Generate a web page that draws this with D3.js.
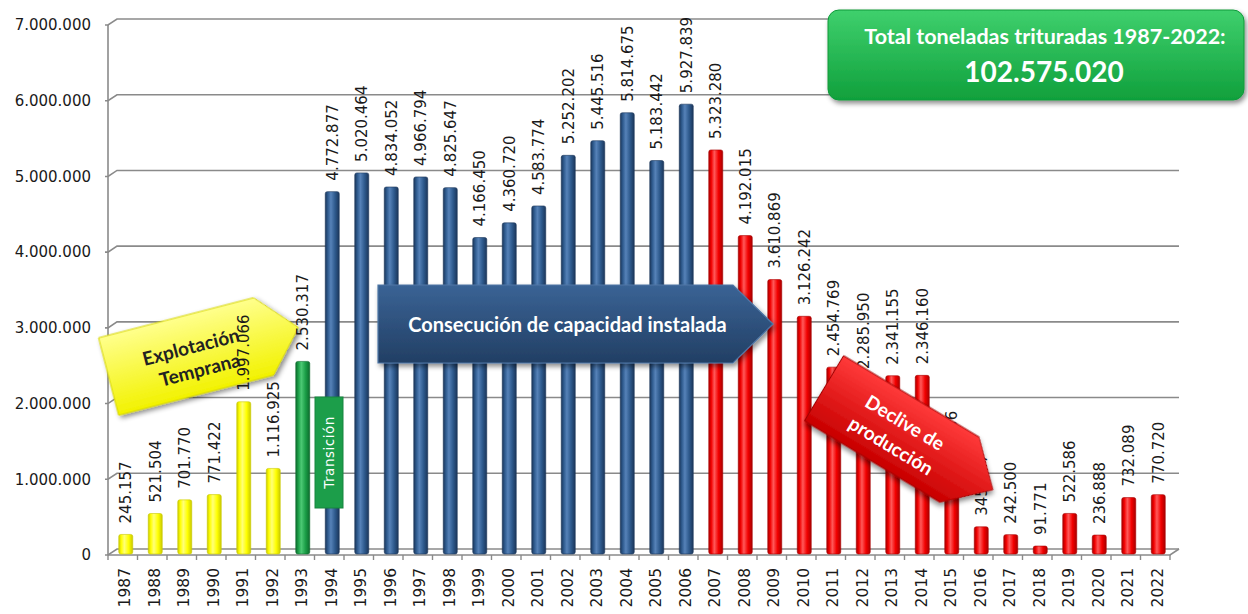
<!DOCTYPE html>
<html>
<head>
<meta charset="utf-8">
<script src="https://cdn.jsdelivr.net/npm/d3@7"></script>
<style>
body{margin:0;background:#fff;}
svg{display:block;}
.eje{font-family:'DejaVu Sans',sans-serif;fill:#1a1a1a;}
.caja{font-family:Lato,'Open Sans',sans-serif;font-weight:bold;}
</style>
</head>
<body>
<script>
var anios = [1987,1988,1989,1990,1991,1992,1993,1994,1995,1996,1997,1998,1999,2000,2001,2002,2003,2004,
	2005,2006,2007,2008,2009,2010,2011,2012,2013,2014,2015,2016,2017,2018,2019,2020,2021,2022];
var toneladas = [245157,521504,701770,771422,1997066,1116925,2530317,4772877,5020464,4834052,4966794,4825647,
	4166450,4360720,4583774,5252202,5445516,5814675,5183442,5927839,5323280,4192015,3610869,3126242,
	2454769,2285950,2341155,2346160,913636,345777,242500,91771,522586,236888,732089,770720];
// etapas: primer y ultimo anio
var etapas = [
	{nombre:'temprana',desde:1987,hasta:1992},
	{nombre:'transicion',desde:1993,hasta:1993},
	{nombre:'capacidad',desde:1994,hasta:2006},
	{nombre:'declive',desde:2007,hasta:2022}
];
var yTicks = [0,1000000,2000000,3000000,4000000,5000000,6000000,7000000];

var colores = {
	temprana:['#c9c900','#ffff00','#ffff7a'],
	transicion:['#0d6b2d','#1b9e47','#4cc974'],
	capacidad:['#1b365a','#2e5a8d','#5682b8'],
	declive:['#a80000','#f20000','#ff5a5a']
};

var fmt = d3.formatLocale({decimal:',',thousands:'.',grouping:[3],currency:['','']}).format(',');
function etapaDe(a){return etapas.filter(function(e){return a>=e.desde && a<=e.hasta;})[0].nombre;}

var W = 1248, H = 614;
var svg = d3.select('body').append('svg').attr('width',W).attr('height',H);
var defs = svg.append('defs');

Object.keys(colores).forEach(function(k){
	var c = colores[k];
	var g = defs.append('linearGradient').attr('id','bar-'+k).attr('x1',0).attr('x2',1).attr('y1',0).attr('y2',0);
	g.append('stop').attr('offset','0%').attr('stop-color',c[0]);
	g.append('stop').attr('offset','18%').attr('stop-color',c[1]);
	g.append('stop').attr('offset','40%').attr('stop-color',c[2]);
	g.append('stop').attr('offset','70%').attr('stop-color',c[1]);
	g.append('stop').attr('offset','100%').attr('stop-color',c[0]);
});
var sombra = defs.append('filter').attr('id','sombra').attr('x','-20%').attr('y','-20%').attr('width','140%').attr('height','150%');
sombra.append('feDropShadow').attr('dx',2).attr('dy',3).attr('stdDeviation',2.5).attr('flood-opacity',0.45);

function gradV(id,a,b){
	var g = defs.append('linearGradient').attr('id',id).attr('x1',0).attr('x2',0).attr('y1',0).attr('y2',1);
	g.append('stop').attr('offset','0%').attr('stop-color',a);
	g.append('stop').attr('offset','100%').attr('stop-color',b);
}
gradV('g-total','#3fd06d','#10a03c');
gradV('g-amarillo','#ffff8c','#f2f200');
gradV('g-azul','#3a6395','#223f64');
gradV('g-rojo','#ff3a3a','#c80000');

//Escalas
var x = d3.scaleBand().domain(anios).range([108,1170]).paddingInner(0);
var y = d3.scaleLinear().domain([0,7000000]).range([553,23]);
var dx = 9, dy = -6; //profundidad 3D

//Rejilla y ejes
var grid = svg.append('g');
yTicks.forEach(function(v){
	var yf = y(v)+2;
	grid.append('path')
		.attr('d','M105,'+yf+'H108L'+(108+dx)+','+(yf+dy)+'H'+(1170+dx))
		.attr('fill','none').attr('stroke','#8a8a8a').attr('stroke-width',1.6);
});
grid.append('line').attr('x1',108).attr('x2',108).attr('y1',y(7000000)+2).attr('y2',y(0)+2)
	.attr('stroke','#8a8a8a').attr('stroke-width',1.6);
grid.append('path').attr('d','M108,'+(y(0)+2)+'H1170L'+(1170+dx)+','+(y(0)+2+dy))
	.attr('fill','none').attr('stroke','#8a8a8a').attr('stroke-width',1.6);
anios.concat([2023]).forEach(function(a,i){
	var xx = 108 + i*x.step();
	grid.append('line').attr('x1',xx).attr('x2',xx).attr('y1',y(0)+2).attr('y2',y(0)+7)
		.attr('stroke','#8a8a8a').attr('stroke-width',1.4);
});

svg.append('g').selectAll('text').data(yTicks).enter().append('text')
	.attr('class','eje').attr('x',91).attr('y',function(d){return y(d)+2;}).attr('dy','0.35em')
	.attr('text-anchor','end').style('font-size','15px').text(function(d){return fmt(d);});

svg.append('g').selectAll('text').data(anios).enter().append('text')
	.attr('class','eje')
	.attr('transform',function(d){return 'translate('+(x(d)+x.bandwidth()/2+7.5)+',568) rotate(-90)';})
	.attr('text-anchor','end').style('font-size','15.5px').text(function(d){return d;});

//Barras
var bw = 14;
var barras = svg.append('g');
barras.selectAll('rect').data(anios).enter().append('rect')
	.attr('x',function(d){return x(d)+x.bandwidth()/2+3-bw/2;})
	.attr('y',function(d,i){return y(toneladas[i]);})
	.attr('width',bw)
	.attr('height',function(d,i){return y(0)-y(toneladas[i])+1;})
	.attr('rx',2)
	.attr('fill',function(d){return 'url(#bar-'+etapaDe(d)+')';})
	.attr('stroke',function(d){return colores[etapaDe(d)][0];})
	.attr('stroke-width',0.6);

//Flechas
function flecha(w,h,t){
	return 'M'+(-w/2)+','+(-h/2)+'L'+(w/2-t)+','+(-h/2)+'L'+(w/2)+',0L'+(w/2-t)+','+(h/2)+'L'+(-w/2)+','+(h/2)+'Z';
}

//la flecha amarilla queda debajo de las etiquetas
var fa = svg.append('g').attr('transform','translate(203.5,352) rotate(-14.5)');
fa.append('path').attr('d',flecha(196,80,36)).attr('fill','url(#g-amarillo)')
	.attr('stroke','#d6d600').attr('stroke-width',1).attr('filter','url(#sombra)');
fa.append('text').attr('class','caja').attr('x',-11).attr('y',-8).attr('dy','0.35em').attr('text-anchor','middle')
	.style('font-size','19px').attr('fill','#222').text('Explotación');
fa.append('text').attr('class','caja').attr('x',-8).attr('y',16.5).attr('dy','0.35em').attr('text-anchor','middle')
	.style('font-size','19px').attr('fill','#222').text('Temprana');

var tr = svg.append('g');
tr.append('rect').attr('x',315).attr('y',397).attr('width',28).attr('height',111)
	.attr('fill','#1c9e4a').attr('stroke','#17853e').attr('stroke-width',1);
tr.append('text').attr('transform','translate(329,452.5) rotate(-90)').attr('dy','0.35em')
	.attr('text-anchor','middle').attr('fill','#fff').style('font-family',"'DejaVu Sans',sans-serif")
	.style('font-size','13.5px').style('letter-spacing','0.5px').text('Transición');

//Etiquetas de valor
var etiquetas = svg.append('g');
etiquetas.selectAll('text').data(anios).enter().append('text')
	.attr('class','eje').style('font-size','15px')
	.text(function(d,i){return fmt(toneladas[i]);})
	.each(function(d,i){
		var len = this.getComputedTextLength();
		var base = y(toneladas[i]) - 11;
		if (base - len < 16) base = 16 + len;
		d3.select(this).attr('transform','translate('+(x(d)+x.bandwidth()/2+3+5.5)+','+base+') rotate(-90)');
	});

var fb = svg.append('g').attr('transform','translate(575.5,324)');
fb.append('path').attr('d',flecha(395,78,40)).attr('fill','url(#g-azul)')
	.attr('stroke','#4f77a6').attr('stroke-width',1.2).attr('filter','url(#sombra)');
fb.append('text').attr('class','caja').attr('x',-8).attr('y',1).attr('dy','0.35em').attr('text-anchor','middle')
	.style('font-size','20px').attr('fill','#fff').text('Consecución de capacidad instalada');

var fr = svg.append('g').attr('transform','translate(908.5,439) rotate(31)');
fr.append('path').attr('d',flecha(197,76,39)).attr('fill','url(#g-rojo)')
	.attr('stroke','#a00000').attr('stroke-width',1).attr('filter','url(#sombra)');
fr.append('text').attr('class','caja').attr('x',-11.5).attr('y',-12).attr('dy','0.35em').attr('text-anchor','middle')
	.style('font-size','19px').attr('fill','#fff').text('Declive de');
fr.append('text').attr('class','caja').attr('x',-11.5).attr('y',15).attr('dy','0.35em').attr('text-anchor','middle')
	.style('font-size','19px').attr('fill','#fff').text('producción');

//Caja total
var ct = svg.append('g');
ct.append('rect').attr('x',828).attr('y',10).attr('width',416).attr('height',90).attr('rx',11)
	.attr('fill','url(#g-total)').attr('stroke','#0f9a3a').attr('filter','url(#sombra)');
ct.append('text').attr('class','caja').attr('x',1045).attr('y',44).attr('text-anchor','middle')
	.style('font-size','21.5px').attr('fill','#fff').text('Total toneladas trituradas '+anios[0]+'-'+anios[anios.length-1]+':');
ct.append('text').attr('class','caja').attr('x',1044).attr('y',82).attr('text-anchor','middle')
	.style('font-size','28px').attr('fill','#fff').text(fmt(d3.sum(toneladas)));
</script>
</body>
</html>
